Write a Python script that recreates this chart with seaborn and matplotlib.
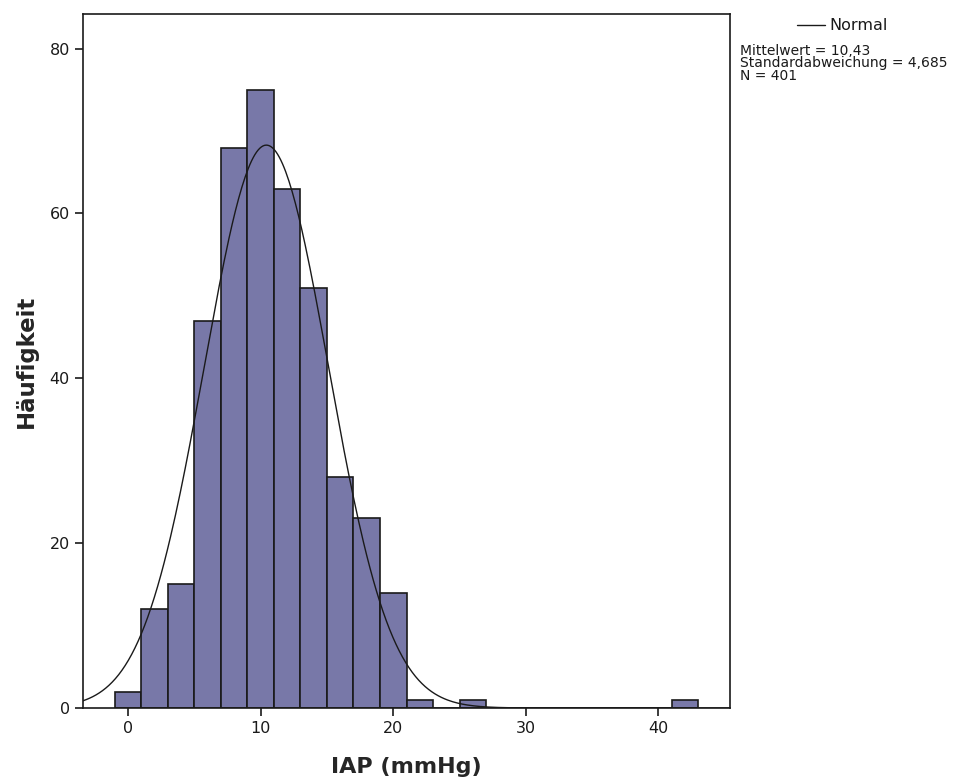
import numpy as np
import pandas as pd
import matplotlib
matplotlib.use("Agg")
import matplotlib.pyplot as plt
import seaborn as sns

# Data
bin_edges = [-1, 1, 3, 5, 7, 9, 11, 13, 15, 17, 19, 21, 23, 25, 27, 29, 31, 33, 35, 37, 39, 41, 43]
bin_centers = [0, 2, 4, 6, 8, 10, 12, 14, 16, 18, 20, 22, 24, 26, 28, 30, 32, 34, 36, 38, 40, 42]
counts = [2, 12, 15, 47, 68, 75, 63, 51, 28, 23, 14, 1, 0, 1, 0, 0, 0, 0, 0, 0, 0, 1]
mean_val = 10.43
sd_val = 4.685
n_val = 401
x_ticks = [0, 10, 20, 30, 40]
y_ticks = [0, 20, 40, 60, 80]

sns.set_theme(style="ticks")
plt.rcParams['font.family'] = ['DejaVu Sans']

fig = plt.figure(figsize=(9.55, 7.78), dpi=100)
ax = fig.add_axes([83/955, 70/778, 647/955, 694/778])

df = pd.DataFrame({"IAP": bin_centers, "n": counts})
sns.histplot(data=df, x="IAP", weights="n", bins=bin_edges, ax=ax,
             color="#7878a8", edgecolor="#1a1a1a", linewidth=1.2, alpha=1.0)

xmin, xmax = -3.4, 45.4
xs = np.linspace(xmin, xmax, 400)
binw = 2.0
ys = n_val * binw / (sd_val * np.sqrt(2 * np.pi)) * np.exp(-0.5 * ((xs - mean_val) / sd_val) ** 2)
sns.lineplot(x=xs, y=ys, ax=ax, color="#1a1a1a", linewidth=1.0)

ax.set_xlim(xmin, xmax)
ax.set_ylim(0, 84.2)
ax.set_xticks(x_ticks)
ax.set_yticks(y_ticks)
ax.tick_params(axis="both", direction="out", length=6, width=1.2, labelsize=11.5, colors="#1a1a1a")
for s in ax.spines.values():
    s.set_visible(True)
    s.set_linewidth(1.2)
    s.set_color("#1a1a1a")

ax.set_xlabel("IAP (mmHg)", fontsize=16, fontweight="bold", labelpad=15)
ax.set_ylabel("Häufigkeit", fontsize=16.5, fontweight="bold", labelpad=8)

# legend outside on the right
fig.lines.append(plt.Line2D([797/955, 825/955], [1 - 25/778, 1 - 25/778],
                            transform=fig.transFigure, color="#1a1a1a", linewidth=1.0))
fig.text(829/955, 1 - 25/778, "Normal", fontsize=11.5, va="center", ha="left", color="#1a1a1a")
fig.text(740/955, 1 - 44/778,
         "Mittelwert = 10,43\nStandardabweichung = 4,685\nN = 401",
         fontsize=10, va="top", ha="left", linespacing=0.85, color="#1a1a1a")

fig.savefig("out.png", dpi=100)
